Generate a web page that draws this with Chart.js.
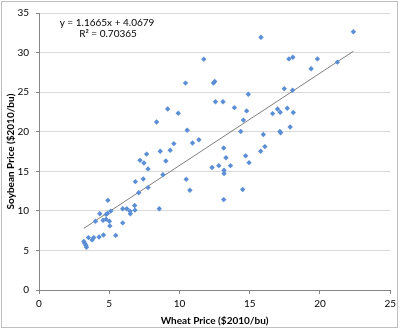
<!DOCTYPE html>
<html>
<head>
<meta charset="utf-8">
<script src="https://cdn.jsdelivr.net/npm/chart.js@4"></script>
<style>
  html, body { margin: 0; padding: 0; background: #fff; }
  #wrap { width: 400px; height: 330px; }
</style>
</head>
<body>
<div id="wrap"><canvas id="scatter"></canvas></div>
<script>
// wheat vs soybean price, $2010 per bushel
const wheatPrice = [
  10.43, 8.37, 9.16, 9.91, 10.55, 8.63, 9.34, 9.60, 10.93, 11.38,
  7.19, 7.47, 7.66, 7.76, 9.03, 22.38, 15.80, 11.73, 17.79, 18.07,
  19.82, 19.37, 21.24, 12.42, 12.51, 14.90, 17.46, 18.05, 12.56, 13.10,
  13.91, 14.78, 16.63, 16.98, 17.17, 17.67, 18.10, 14.55, 14.36, 17.15,
  17.20, 17.88, 15.97, 13.15, 16.08, 15.78, 13.31, 14.71, 14.95, 12.32,
  12.80, 13.17, 13.63, 13.17, 14.50, 13.15, 6.86, 7.42, 7.76, 7.10,
  8.82, 10.48, 10.74, 4.90, 5.96, 6.25, 6.81, 6.83, 6.48, 6.50,
  8.56, 4.33, 4.78, 4.87, 5.11, 4.02, 4.56, 4.78, 5.01, 5.04,
  5.96, 5.46, 4.59, 4.28, 3.52, 3.90, 3.78, 3.19, 3.26, 3.34, 3.38
];
const soybeanPrice = [
  26.14, 21.22, 22.87, 22.34, 20.18, 17.54, 17.66, 18.49, 18.57, 18.99,
  16.38, 16.05, 17.17, 15.30, 16.30, 32.64, 31.94, 29.17, 29.20, 29.41,
  29.20, 27.96, 28.79, 26.14, 26.35, 24.74, 25.44, 25.23, 23.78, 23.78,
  23.04, 22.63, 22.29, 22.87, 22.46, 22.96, 22.42, 21.47, 20.02, 20.02,
  19.86, 20.60, 19.65, 17.95, 18.12, 17.54, 16.71, 16.95, 16.09, 15.47,
  15.71, 15.14, 15.71, 14.72, 12.70, 11.42, 13.69, 14.02, 12.94, 12.29,
  14.56, 13.98, 12.61, 11.33, 10.26, 10.26, 10.67, 10.09, 9.97, 9.64,
  10.26, 9.64, 9.55, 9.68, 9.97, 8.69, 8.81, 8.94, 8.69, 8.10,
  8.48, 6.90, 6.95, 6.70, 6.62, 6.62, 6.33, 6.12, 5.87, 5.66, 5.41
];

// linear trendline ends (y = 1.1665x + 4.0679 over the data range)
const trendX = [3.19, 22.38];
const trendY = [7.79, 30.17];
const trendLabel = ['y = 1.1665x + 4.0679', 'R\u00b2 = 0.70365'];

const xTicks = [0, 5, 10, 15, 20, 25];
const yTicks = [0, 5, 10, 15, 20, 25, 30, 35];

const FONT = 'Lato, "Open Sans", sans-serif';
const axisGrey = '#868686';

// equation box + outer frame like the excel chart
const extras = {
  id: 'extras',
  afterDraw(chart) {
    const ctx = chart.ctx;
    ctx.save();
    ctx.fillStyle = '#000';
    ctx.font = '10px ' + FONT;
    ctx.textAlign = 'center';
    ctx.textBaseline = 'middle';
    ctx.fillText(trendLabel[0], 107, 23);
    ctx.fillText(trendLabel[1], 108, 34);
    ctx.strokeStyle = '#bfbfbf';
    ctx.lineWidth = 1;
    ctx.strokeRect(1.5, 1.5, 396, 326);
    ctx.restore();
  }
};

new Chart(document.getElementById('scatter'), {
  type: 'scatter',
  data: {
    datasets: [{
      label: 'prices',
      data: wheatPrice.map((w, i) => ({ x: w, y: soybeanPrice[i] })),
      pointStyle: 'rectRot',
      pointRadius: 2.7,
      pointHoverRadius: 2.7,
      backgroundColor: '#5b8ed4',
      borderColor: '#5b8ed4',
      borderWidth: 0
    }, {
      type: 'line',
      label: 'trend',
      data: trendX.map((x, i) => ({ x: x, y: trendY[i] })),
      borderColor: '#5e5e5e',
      borderWidth: 0.8,
      pointRadius: 0,
      fill: false
    }]
  },
  options: {
    responsive: true,
    maintainAspectRatio: false,
    animation: false,
    events: [],
    layout: { padding: { left: 0, right: 9, top: 8, bottom: 0 } },
    plugins: { legend: { display: false }, tooltip: { enabled: false } },
    scales: {
      x: {
        type: 'linear',
        min: 0, max: 25,
        afterBuildTicks(scale) { scale.ticks = xTicks.map(v => ({ value: v })); },
        afterFit(scale) { scale.height = 40; },
        grid: { drawOnChartArea: false, drawTicks: true, tickLength: 4, tickColor: axisGrey },
        border: { color: axisGrey, width: 1 },
        ticks: { color: '#000', font: { family: FONT, size: 10 }, padding: 4, maxRotation: 0 },
        title: {
          display: true,
          text: 'Wheat Price ($2010/bu)',
          color: '#000',
          font: { family: FONT, size: 10, weight: 'bold' },
          padding: { top: 0, bottom: 3 }
        }
      },
      y: {
        type: 'linear',
        min: 0, max: 35,
        afterBuildTicks(scale) { scale.ticks = yTicks.map(v => ({ value: v })); },
        afterFit(scale) { scale.width = 39; },
        grid: { color: '#d9d9d9', drawTicks: true, tickLength: 3, tickColor: axisGrey },
        border: { color: axisGrey, width: 1 },
        ticks: { color: '#000', font: { family: FONT, size: 10 }, padding: 7 },
        title: {
          display: true,
          text: 'Soybean Price ($2010/bu)',
          color: '#000',
          font: { family: FONT, size: 10, weight: 'bold' },
          padding: { top: 5, bottom: 0 }
        }
      }
    }
  },
  plugins: [extras]
});
</script>
</body>
</html>
